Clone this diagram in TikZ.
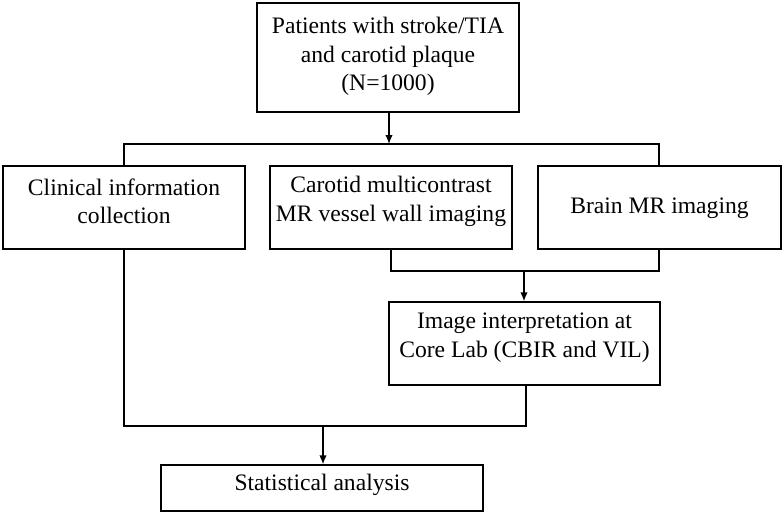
\documentclass[tikz,border=0pt]{standalone}
\usepackage{fontspec}
\setmainfont{Liberation Serif}
\usetikzlibrary{arrows.meta}
\begin{document}
\begin{tikzpicture}[x=1pt,y=-1pt,
  box/.style={draw=black, line width=1.4pt, inner sep=0pt},
  txt/.style={align=center, inner sep=0pt, font=\fontsize{23.6}{28.5}\selectfont},
  conn/.style={draw=black, line width=1.4pt},
  arr/.style={conn, -{Latex[length=9pt,width=7.5pt]}}]
\useasboundingbox (0,0) rectangle (784,514);
\node[box, minimum width=262pt, minimum height=109pt] (top) at (388,57.5) {};
\node[txt] (toptxt) at ([yshift=1pt]top.center)
  {Patients with stroke/TIA\\and carotid plaque\\(N=1000)};
\node[box, minimum width=242pt, minimum height=83pt] (clin) at (124,207.5) {};
\node[txt] (clintxt) at ([yshift=6pt]clin.center) {Clinical information\\collection};
\node[box, minimum width=242pt, minimum height=83pt] (carotid) at (391,207.5) {};
\node[txt] (carotidtxt) at ([yshift=6pt]carotid.center) {Carotid multicontrast\\MR vessel wall imaging};
\node[box, minimum width=243pt, minimum height=83pt] (brain) at (659.5,207.5) {};
\node[txt] (braintxt) at ([yshift=-1pt]brain.center) {Brain MR imaging};
\node[box, minimum width=271pt, minimum height=83pt] (interp) at (524.5,343.5) {};
\node[txt] (interptxt) at ([yshift=6pt]interp.center) {Image interpretation at\\Core Lab (CBIR and VIL)};
\node[box, minimum width=322pt, minimum height=46pt] (stat) at (322,488) {};
\node[txt] (stattxt) at ([yshift=3pt]stat.center) {Statistical analysis};
% junctions
\coordinate (j1) at (389,144);
\coordinate (jl) at (124,144);
\coordinate (jr) at (659,144);
\coordinate (j2l) at (391,271);
\coordinate (j2r) at (659,271);
\coordinate (j2) at (524,271);
\coordinate (j3l) at (124,426);
\coordinate (j3r) at (526,426);
\coordinate (j3) at (323,426);
% connectors
\draw[arr] (top.south -| j1) -- (j1);
\draw[conn] (clin.north -| jl) -- (jl) -- (jr) -- (brain.north -| jr);
\draw[conn] (carotid.south -| j2l) -- (j2l) -- (j2r) -- (brain.south -| j2r);
\draw[arr] (j2) -- (interp.north -| j2);
\draw[conn] (clin.south -| j3l) -- (j3l) -- (j3r) -- (interp.south -| j3r);
\draw[arr] (j3) -- (stat.north -| j3);
\end{tikzpicture}
\end{document}
